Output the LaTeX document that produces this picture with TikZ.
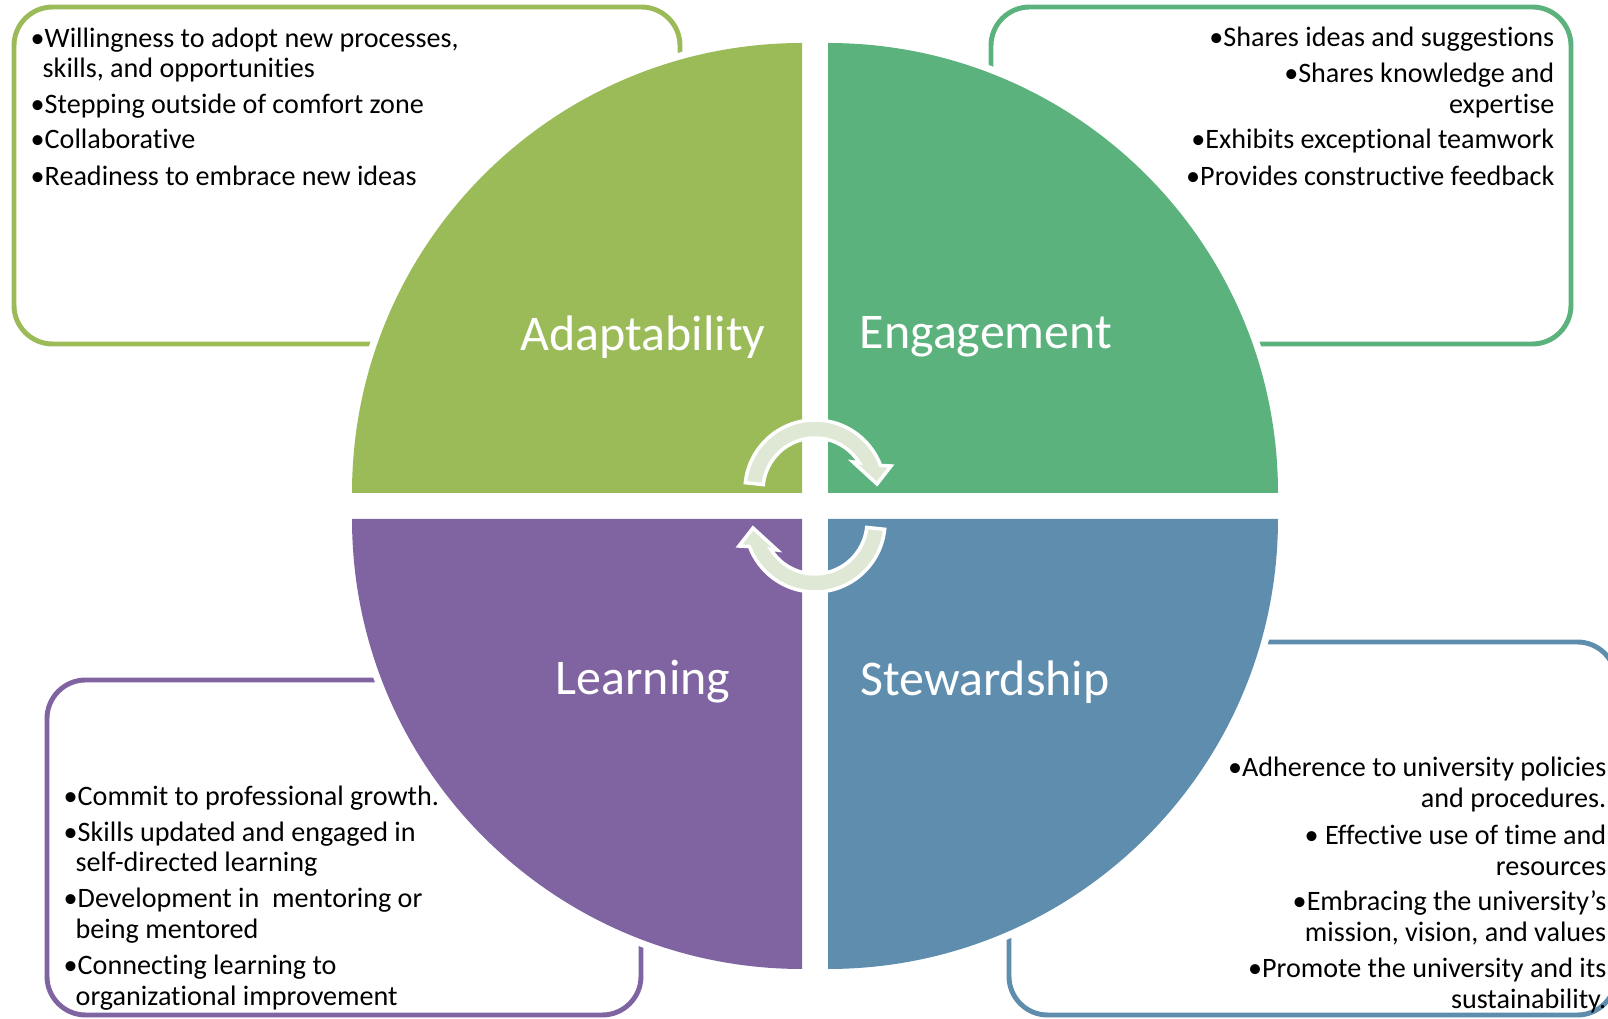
\documentclass[tikz,border=0pt]{standalone}
\usepackage{fontspec}
\setmainfont{Carlito}[Ligatures={NoCommon,NoContextual}]
\usetikzlibrary{calc}

\definecolor{adaptc}{RGB}{155,187,89}
\definecolor{engc}{RGB}{92,178,125}
\definecolor{learnc}{RGB}{128,100,162}
\definecolor{stewc}{RGB}{95,141,173}
\definecolor{arrowc}{RGB}{223,232,213}

\tikzset{
  frame/.style={draw=#1, line width=1.4pt, rounded corners=11pt},
  quarter/.style={fill=#1, preaction={draw=white, fill=white, line width=4pt}},
  title/.style={text=white, font=\fontsize{14.2}{17}\selectfont, inner sep=0pt, anchor=center},
  item/.style={font=\fontsize{8}{9.6}\selectfont, inner sep=0pt, text=black},
  itemL/.style={item, anchor=base west},
  itemR/.style={item, anchor=base east},
  cycarrow/.style={fill=arrowc, draw=white, line width=1pt, line join=miter}
}

% curved block arrow turning clockwise around (815,490)
\newcommand\turnarrow{%
  \coordinate (ac) at (815,490);
  \path[cycarrow] ($(ac)+(-174:70)$) arc[start angle=-174, end angle=-20.5, radius=70]
    -- (891,466) -- (877,484) -- (853,462)
    -- ($(ac)+(-31.6:52)$) arc[start angle=-31.6, end angle=-174, radius=52] -- cycle;
}

\begin{document}
\begin{tikzpicture}[x=0.01cm, y=-0.01cm]
\useasboundingbox (0,0) rectangle (1608,1019);
\clip (0,0) rectangle (1608,1019);

% outlined text panels
\draw[frame=adaptc] (14,7) rectangle (680,344);
\draw[frame=engc]   (991,7) rectangle (1571,344);
\draw[frame=learnc] (47,680) rectangle (641,1015);
\draw[frame=stewc]  (1009,642) rectangle (1616,1015);

% four quarter discs
\path[quarter=adaptc] (802,493) -- ++(-450,0) arc[start angle=180, end angle=270, radius=450] -- cycle;
\path[quarter=engc]   (828,493) -- ++(0,-450) arc[start angle=270, end angle=360, radius=450] -- cycle;
\path[quarter=stewc]  (828,519) -- ++(450,0) arc[start angle=0, end angle=90, radius=450] -- cycle;
\path[quarter=learnc] (802,519) -- ++(0,450) arc[start angle=90, end angle=180, radius=450] -- cycle;

% quadrant titles
\node[title] (tA) at (643,337) {Adaptability};
\node[title] (tE) at (986,337) {Engagement};
\node[title] (tL) at (643,682) {Learning};
\node[title] (tS) at (985,682) {Stewardship};

% cycle arrows in the centre
\turnarrow
\begin{scope}[rotate around={180:(815,506)}]
  \turnarrow
\end{scope}

% Adaptability items
\node[itemL] (a1) at (30,48)  {•Willingness to adopt new processes,};
\node[itemL] (a2) at (42,78)  {skills, and opportunities};
\node[itemL] (a3) at (30,114) {•Stepping outside of comfort zone};
\node[itemL] (a4) at (30,149) {•Collaborative};
\node[itemL] (a5) at (30,186) {•Readiness to embrace new ideas};

% Engagement items
\node[itemR] (e1) at (1555,47)  {•Shares ideas and suggestions};
\node[itemR] (e2) at (1555,83)  {•Shares knowledge and};
\node[itemR] (e3) at (1555,114) {expertise};
\node[itemR] (e4) at (1555,149) {•Exhibits exceptional teamwork};
\node[itemR] (e5) at (1555,186) {•Provides constructive feedback};

% Learning items
\node[itemL] (l1) at (63,806)  {•Commit to professional growth.};
\node[itemL] (l2) at (63,842)  {•Skills updated and engaged in};
\node[itemL] (l3) at (75,872)  {self-directed learning};
\node[itemL] (l4) at (63,908)  {•Development in\ \ mentoring or};
\node[itemL] (l5) at (75,939)  {being mentored};
\node[itemL] (l6) at (63,975)  {•Connecting learning to};
\node[itemL] (l7) at (75,1006) {organizational improvement};

% Stewardship items
\node[itemR] (s1) at (1607,777)  {•Adherence to university policies};
\node[itemR] (s2) at (1607,808)  {and procedures.};
\node[itemR] (s3) at (1607,845)  {• Effective use of time and};
\node[itemR] (s4) at (1607,876)  {resources};
\node[itemR] (s5) at (1607,911)  {•Embracing the university’s};
\node[itemR] (s6) at (1607,942)  {mission, vision, and values};
\node[itemR] (s7) at (1607,978)  {•Promote the university and its};
\node[itemR] (s8) at (1607,1009) {sustainability.};
\end{tikzpicture}
\end{document}
